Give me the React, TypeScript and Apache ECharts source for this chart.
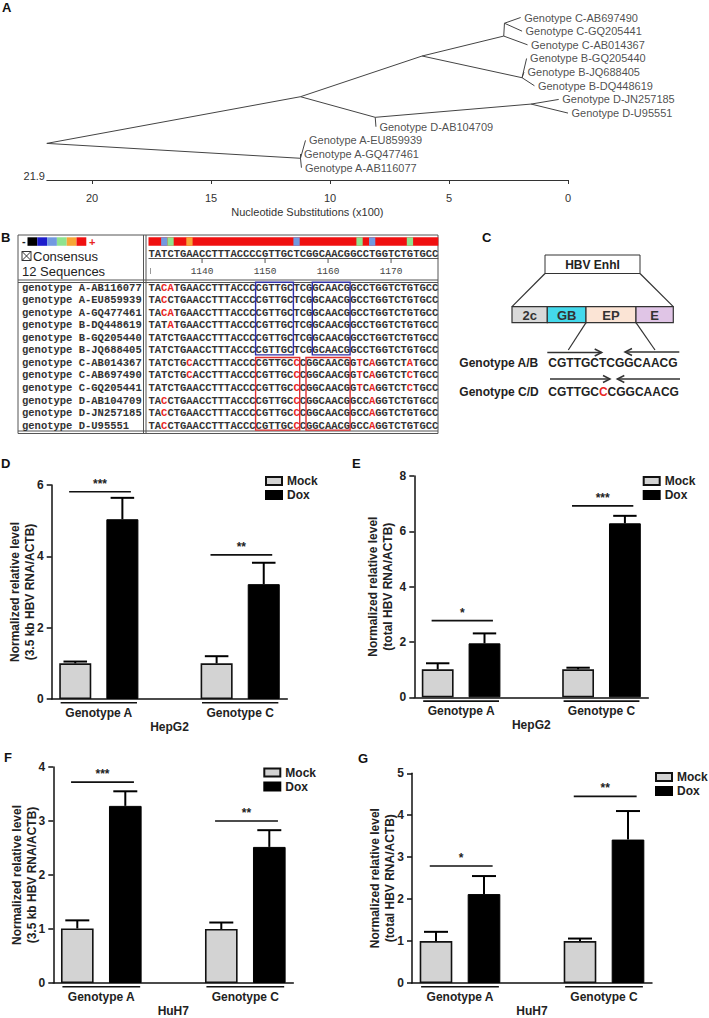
import React, { useEffect, useRef } from 'react';
import * as echarts from 'echarts';

const SANS = '"Liberation Sans", Arial, Helvetica, sans-serif';
const MONO = '"Liberation Mono", "Courier New", monospace';
const INK = '#222222';
const RED = '#e8261f';

// ---------- Panel A: phylogenetic tree ----------
const TREE_MAX = 21.9;
const TREE_TICKS = [0, 5, 10, 15, 20];
const TREE_AXIS_NAME = 'Nucleotide Substitutions (x100)';
// [id, distance (x100 substitutions), row, parent]
const TREE_NODES: [string, number, number, string][] = [
  ['root', 21.9, 9.22, ''],
  ['n1', 11.24, 5.8, 'root'],
  ['nA', 11.24, 10.31, 'root'],
  ['n2', 6.13, 2.82, 'n1'],
  ['nD', 8.1, 7.31, 'n1'],
  ['nC', 2.7, 1.36, 'n2'],
  ['nB', 1.93, 4.41, 'n2'],
  ['nC2', 2.67, 0.42, 'nC'],
  ['nD2', 1.55, 6.34, 'nD'],
];
const TREE_LEAVES: [string, number, number, string][] = [
  ['Genotype C-AB697490', 1.99, 0, 'nC2'],
  ['Genotype C-GQ205441', 1.93, 1, 'nC2'],
  ['Genotype C-AB014367', 1.7, 2, 'nC'],
  ['Genotype B-GQ205440', 1.74, 3, 'nB'],
  ['Genotype B-JQ688405', 1.85, 4, 'nB'],
  ['Genotype B-DQ448619', 1.41, 5, 'nB'],
  ['Genotype D-JN257185', 0.39, 6, 'nD2'],
  ['Genotype D-U95551', 0.0, 7, 'nD2'],
  ['Genotype D-AB104709', 8.07, 8, 'nD'],
  ['Genotype A-EU859939', 11.03, 9, 'nA'],
  ['Genotype A-GQ477461', 11.24, 10, 'nA'],
  ['Genotype A-AB116077', 11.2, 11, 'nA'],
];

// ---------- Panel B: alignment ----------
const ALIGN_FIRST_POS = 1132;
const RULER_MARKS = [1140, 1150, 1160, 1170];
const CONSENSUS = 'TATCTGAACCTTTACCCCGTTGCTCGGCAACGGCCTGGTCTGTGCC';
const SEQ_NAMES = [
  'genotype A-AB116077', 'genotype A-EU859939', 'genotype A-GQ477461',
  'genotype B-DQ448619', 'genotype B-GQ205440', 'genotype B-JQ688405',
  'genotype C-AB014367', 'genotype C-AB697490', 'genotype C-GQ205441',
  'genotype D-AB104709', 'genotype D-JN257185', 'genotype D-U95551',
];
const SEQS = [
  'TACATGAACCTTTACCCCGTTGCTCGGCAACGGCCTGGTCTGTGCC',
  'TACCTGAACCTTTACCCCGTTGCTCGGCAACGGCCTGGTCTGTGCC',
  'TACATGAACCTTTACCCCGTTGCTCGGCAACGGCCTGGTCTGTGCC',
  'TATATGAACCTTTACCCCGTTGCTCGGCAACGGCCTGGTCTGTGCC',
  'TATCTGAACCTTTACCCCGTTGCTCGGCAACGGCCTGGTCTGTGCC',
  'TATCTGAACCTTTACCCCGTTGCTCGGCAACGGCCTGGTCTGTGCC',
  'TATCTGCACCTTTACCCCGTTGCCCGGCAACGGTCAGGTCTATGCC',
  'TATCTGCACCTTTACCCCGTTGCCCGGCAACGGTCAGGTCTCTGCC',
  'TATCTGAACCTTTACCCCGTTGCCCGGCAACGGTCAGGTCTCTGCC',
  'TACCTGAACCTTTACCCCGTTGCCCGGCAACGGCCAGGTCTGTGCC',
  'TACCTGAACCTTTACCCCGTTGCCCGGCAACGGCCAGGTCTGTGCC',
  'TACCTGAACCTTTACCCCGTTGCCCGGCAACGGCCAGGTCTGTGCC',
];
const CONSERVATION: [number, string][] = [
  [2, '#7299e0'], [3, '#8fe38f'], [6, '#f7a637'], [23, '#7299e0'],
  [33, '#8fe38f'], [35, '#7299e0'], [41, '#8fe38f'],
];
const SCALE_COLORS = ['#000000', '#1c1ccc', '#7299e0', '#8fe38f', '#f7a637', '#f01010'];
// [firstCol, lastCol, firstRow, lastRow]
const BLUE_BOXES = [[17, 22, 0, 5], [26, 31, 0, 5]];
const RED_BOXES = [[17, 23, 6, 11], [25, 31, 6, 11]];

// ---------- Panel C ----------
const ENH_SEGMENTS: [string, string][] = [['2c', '#d9d9d9'], ['GB', '#44d9ec'], ['EP', '#fbe4d5'], ['E', '#e0c5e6']];
const SITE_AB = 'CGTTGCTCGGCAACG';
const SITE_CD = 'CGTTGCCCGGCAACG';
const SITE_MUT_INDEX = 6;

// ---------- Panels D-G ----------
const GROUPS = ['Genotype A', 'Genotype C'];
const SLOTS = ['A Mock', 'A Dox', '', 'C Mock', 'C Dox'];
const Y_NAME_35 = 'Normalized relative level\n(3.5 kb HBV RNA/ACTB)';
const Y_NAME_TOTAL = 'Normalized relative level\n(total HBV RNA/ACTB)';

const D_MOCK = [1.0, 1.0];
const D_MOCK_ERR = [0.05, 0.2];
const D_DOX = [5.04, 3.22];
const D_DOX_ERR = [0.6, 0.6];
const D_SIG = [5.81, 4.04];
const D_STARS = ['***', '**'];

const E_MOCK = [1.01, 1.01];
const E_MOCK_ERR = [0.22, 0.06];
const E_DOX = [1.95, 6.29];
const E_DOX_ERR = [0.36, 0.27];
const E_SIG = [2.77, 6.92];
const E_STARS = ['*', '***'];

const F_MOCK = [1.01, 1.0];
const F_MOCK_ERR = [0.15, 0.12];
const F_DOX = [3.28, 2.52];
const F_DOX_ERR = [0.27, 0.31];
const F_SIG = [3.72, 3.0];
const F_STARS = ['***', '**'];

const G_MOCK = [1.0, 1.0];
const G_MOCK_ERR = [0.22, 0.06];
const G_DOX = [2.12, 3.42];
const G_DOX_ERR = [0.43, 0.68];
const G_SIG = [2.79, 4.45];
const G_STARS = ['*', '**'];

const BAR_PANELS = [
  { grid: { left: 51.7, top: 485, width: 235.6, height: 214 }, yMax: 6, yInt: 2, yName: Y_NAME_35, cell: 'HepG2',
    mock: D_MOCK, mockErr: D_MOCK_ERR, dox: D_DOX, doxErr: D_DOX_ERR, sig: D_SIG, stars: D_STARS, legend: { left: 260, top: 470 }, nameGap: 14 },
  { grid: { left: 414.3, top: 476, width: 234, height: 221.3 }, yMax: 8, yInt: 2, yName: Y_NAME_TOTAL, cell: 'HepG2',
    mock: E_MOCK, mockErr: E_MOCK_ERR, dox: E_DOX, doxErr: E_DOX_ERR, sig: E_SIG, stars: E_STARS, legend: { left: 637.7, top: 470 }, nameGap: 18.5 },
  { grid: { left: 53.3, top: 767, width: 240, height: 221.3 }, yMax: 4, yInt: 1, yName: Y_NAME_35, cell: 'HuH7',
    mock: F_MOCK, mockErr: F_MOCK_ERR, dox: F_DOX, doxErr: F_DOX_ERR, sig: F_SIG, stars: F_STARS, legend: { left: 258.3, top: 761.5 }, nameGap: 14 },
  { grid: { left: 412, top: 773.3, width: 240, height: 212.7 }, yMax: 5, yInt: 1, yName: Y_NAME_TOTAL, cell: 'HuH7',
    mock: G_MOCK, mockErr: G_MOCK_ERR, dox: G_DOX, doxErr: G_DOX_ERR, sig: G_SIG, stars: G_STARS, legend: { left: 650, top: 766 }, nameGap: 14.5 },
];

// ---------- helpers ----------
function txt(text: string, x: number, y: number, o: any = {}) {
  const align = o.align || 'left';
  const valign = o.valign || 'middle';
  return {
    type: 'text', x, y, silent: true, z: 10,
    style: {
      text, fill: o.fill || INK, font: o.font || `12px ${SANS}`,
      align, verticalAlign: valign, textAlign: align, textVerticalAlign: valign,
    },
  };
}
function line(x1: number, y1: number, x2: number, y2: number, stroke = '#333', lineWidth = 1) {
  return { type: 'line', silent: true, z: 10, shape: { x1, y1, x2, y2 }, style: { stroke, lineWidth } };
}
function rect(x: number, y: number, width: number, height: number, fill: string, stroke?: string, lineWidth = 1) {
  return { type: 'rect', silent: true, z: 9, shape: { x, y, width, height }, style: { fill, stroke: stroke || 'none', lineWidth } };
}
function arrow(x1: number, x2: number, y: number) {
  const d = x2 > x1 ? 1 : -1;
  return [
    line(x1, y, x2, y, '#333', 1.5),
    { type: 'polyline', silent: true, z: 10, shape: { points: [[x2 - d * 7, y - 3.5], [x2, y], [x2 - d * 7, y + 3.5]] }, style: { stroke: '#333', fill: 'none', lineWidth: 1.5 } },
  ];
}

function buildTreeEdges() {
  const pos: Record<string, [number, number]> = {};
  TREE_NODES.forEach(([id, x, y]) => { pos[id] = [x, y]; });
  const edges: any[] = [];
  TREE_NODES.forEach(([, x, y, p]) => { if (p) edges.push({ coords: [pos[p], [x, y]] }); });
  TREE_LEAVES.forEach(([, x, y, p]) => edges.push({ coords: [pos[p], [x, y]] }));
  return edges;
}

function buildPanelB() {
  const els: any[] = [];
  const SEQ_X = 148.5, CW = 6.3, ROW_Y0 = 287.7, ROW_H = 12.54;
  const colX = (c: number) => SEQ_X + c * CW;
  const rowY = (r: number) => ROW_Y0 + r * ROW_H;
  const seqFont = `bold 10.5px ${MONO}`;
  const L = 18, R = 438, T = 235, BOT = 433.5;
  // frame
  els.push(rect(L, T, R - L, BOT - T, 'none', '#555', 1));
  els.push(line(L, 431, R, 431, '#555', 1));
  els.push(line(143.5, T, 143.5, BOT, '#555', 1));
  els.push(line(146, T, 146, BOT, '#555', 1));
  els.push(line(L, 280, R, 280, '#555', 1));
  els.push(line(L, 282.5, R, 282.5, '#555', 1));
  // colour scale
  els.push(txt('-', 22, 241, { font: `bold 11px ${SANS}` }));
  SCALE_COLORS.forEach((c, i) => els.push(rect(27.5 + i * 9.8, 237.3, 9.8, 8.5, c)));
  els.push(txt('+', 89, 241.5, { font: `bold 11px ${SANS}`, fill: RED }));
  // consensus label
  els.push(rect(22, 251.5, 9, 9, 'none', '#333', 1));
  els.push(line(22, 251.5, 31, 260.5, '#333', 1));
  els.push(line(31, 251.5, 22, 260.5, '#333', 1));
  els.push(txt('Consensus', 33, 256.5, { font: `13px ${SANS}` }));
  els.push(txt('12 Sequences', 22, 271, { font: `13px ${SANS}` }));
  // conservation bar
  els.push(rect(colX(0), 237.3, CONSENSUS.length * CW, 8.5, '#f01010'));
  CONSERVATION.forEach(([c, col]) => els.push(rect(colX(c), 237.3, CW, 8.5, col)));
  // consensus + ruler
  els.push(txt(CONSENSUS, colX(0), 253.5, { font: seqFont, fill: '#333' }));
  els.push(line(colX(0), 258.5, colX(CONSENSUS.length), 258.5, '#555', 1));
  els.push(line(colX(0) + 2, 268, colX(0) + 2, 274, '#999', 1));
  RULER_MARKS.forEach((m) => {
    const cx = colX(m - ALIGN_FIRST_POS) + CW / 2;
    els.push(line(cx, 258.5, cx, 263, '#555', 1));
    els.push(txt(String(m), cx, 271, { font: `9.5px ${MONO}`, fill: '#444', align: 'center' }));
  });
  // rows
  SEQS.forEach((seq, r) => {
    const y = rowY(r);
    els.push(txt(SEQ_NAMES[r], 22, y, { font: seqFont, fill: '#333' }));
    let i = 0;
    while (i < seq.length) {
      const red = seq[i] !== CONSENSUS[i];
      let j = i + 1;
      while (j < seq.length && (seq[j] !== CONSENSUS[j]) === red) j++;
      els.push(txt(seq.slice(i, j), colX(i), y, { font: seqFont, fill: red ? RED : '#333' }));
      i = j;
    }
  });
  const box = (b: number[], color: string) => {
    const [c0, c1, r0, r1] = b;
    const y0 = rowY(r0) - 5.5, y1 = rowY(r1) + 4.5;
    els.push({ type: 'rect', silent: true, z: 11, shape: { x: colX(c0), y: y0, width: (c1 - c0 + 1) * CW, height: y1 - y0 }, style: { fill: 'none', stroke: color, lineWidth: 1.4 } });
  };
  BLUE_BOXES.forEach((b) => box(b, '#3030a8'));
  RED_BOXES.forEach((b) => box(b, '#e03030'));
  return els;
}

function buildPanelC() {
  const els: any[] = [];
  els.push(rect(545, 255, 95, 18.5, '#ffffff', '#333', 1));
  els.push(txt('HBV EnhI', 592.5, 264.5, { font: `bold 12px ${SANS}`, align: 'center' }));
  els.push(line(545, 273.5, 512, 306.7, '#333', 1.2));
  els.push(line(640, 273.5, 673.3, 306.7, '#333', 1.2));
  const edges = [512, 547.3, 586, 636, 673.3];
  ENH_SEGMENTS.forEach(([name, color], i) => {
    els.push(rect(edges[i], 306.7, edges[i + 1] - edges[i], 16, color, '#333', 1.2));
    els.push(txt(name, (edges[i] + edges[i + 1]) / 2, 315, { font: `bold 13px ${SANS}`, align: 'center', fill: '#333' }));
  });
  els.push(line(586, 322.7, 568.3, 350, '#333', 1.2));
  els.push(line(636, 322.7, 655, 350, '#333', 1.2));
  els.push(...arrow(547.3, 601.7, 352.5));
  els.push(...arrow(679.3, 625, 352));
  els.push(...arrow(550, 610, 379));
  els.push(...arrow(680, 617.3, 379));
  const f = `bold 12px ${SANS}`;
  els.push(txt('Genotype A/B', 459.3, 362.5, { font: f }));
  els.push(txt(SITE_AB, 548.3, 362.5, { font: f }));
  els.push(txt('Genotype C/D', 459.3, 391.5, { font: f }));
  els.push({
    type: 'text', x: 548.3, y: 391.5, silent: true, z: 10,
    style: {
      text: `{n|${SITE_CD.slice(0, SITE_MUT_INDEX)}}{r|${SITE_CD[SITE_MUT_INDEX]}}{n|${SITE_CD.slice(SITE_MUT_INDEX + 1)}}`,
      font: f, fill: INK, align: 'left', verticalAlign: 'middle', textAlign: 'left', textVerticalAlign: 'middle',
      rich: { n: { fill: INK, color: INK, font: f, fontWeight: 'bold', fontSize: 12, fontFamily: SANS }, r: { fill: RED, color: RED, font: f, fontWeight: 'bold', fontSize: 12, fontFamily: SANS } },
    },
  });
  return els;
}

function buildOption() {
  const grid: any[] = [{ left: 46.8, top: 3.85, width: 521.2, height: 176.15 }];
  const xAxis: any[] = [{
    gridIndex: 0, type: 'value', min: 0, max: TREE_MAX, inverse: true, interval: 5, position: 'bottom',
    axisLine: { show: true, onZero: false, lineStyle: { color: '#333', width: 1 } },
    axisTick: { show: true, customValues: TREE_TICKS, length: 4, lineStyle: { color: '#333' } },
    axisLabel: { customValues: TREE_TICKS, fontSize: 11, color: '#333', margin: 12, fontFamily: SANS },
    splitLine: { show: false },
    name: TREE_AXIS_NAME, nameLocation: 'middle', nameGap: 26,
    nameTextStyle: { fontSize: 11, color: '#333', fontFamily: SANS },
  }];
  const yAxis: any[] = [{ gridIndex: 0, type: 'value', min: -1, max: 11.9, inverse: true, show: false }];
  const series: any[] = [
    {
      type: 'lines', coordinateSystem: 'cartesian2d', xAxisIndex: 0, yAxisIndex: 0, silent: true,
      lineStyle: { color: '#444', width: 1, opacity: 1 }, data: buildTreeEdges(),
    },
    {
      type: 'scatter', xAxisIndex: 0, yAxisIndex: 0, symbolSize: 1, silent: true,
      itemStyle: { color: 'transparent' },
      label: { show: true, position: 'right', distance: 3, formatter: '{b}', fontSize: 11, color: INK, fontFamily: SANS },
      data: TREE_LEAVES.map(([name, x, y]) => ({ name, value: [x, y] })),
    },
  ];
  const legend: any[] = [];

  BAR_PANELS.forEach((p, k) => {
    const gi = k + 1;
    grid.push({ ...p.grid });
    xAxis.push({
      gridIndex: gi, type: 'category', data: SLOTS,
      axisLine: { show: true, lineStyle: { color: '#111', width: 1.5 } },
      axisTick: { show: false }, axisLabel: { show: false },
      name: p.cell, nameLocation: 'middle', nameGap: 22, nameMoveOverlap: false,
      nameTextStyle: { fontWeight: 'bold', fontSize: 12, color: INK, fontFamily: SANS },
    });
    yAxis.push({
      gridIndex: gi, type: 'value', min: 0, max: p.yMax, interval: p.yInt,
      axisLine: { show: true, lineStyle: { color: '#111', width: 1.5 } },
      axisTick: { show: true, length: 5, lineStyle: { color: '#111', width: 1.5 } },
      axisLabel: { fontWeight: 'bold', fontSize: 12, color: INK, margin: 8, fontFamily: SANS },
      splitLine: { show: false },
      name: p.yName, nameLocation: 'middle', nameRotate: 90, nameGap: p.nameGap, nameMoveOverlap: false,
      nameTextStyle: { fontWeight: 'bold', fontSize: 12, color: INK, lineHeight: 15, fontFamily: SANS },
    });
    series.push({
      name: 'Mock', type: 'bar', xAxisIndex: gi, yAxisIndex: gi, barWidth: '68%', barGap: '-100%', silent: true,
      itemStyle: { color: '#d3d3d3', borderColor: '#111', borderWidth: 1.6 },
      data: [p.mock[0], '-', '-', p.mock[1], '-'],
    });
    series.push({
      name: 'Dox', type: 'bar', xAxisIndex: gi, yAxisIndex: gi, barWidth: '68%', barGap: '-100%', silent: true,
      itemStyle: { color: '#000000', borderColor: '#000', borderWidth: 1 },
      data: ['-', p.dox[0], '-', '-', p.dox[1]],
    });
    series.push({
      type: 'custom', xAxisIndex: gi, yAxisIndex: gi, silent: true, z: 5,
      data: [[0, p.mock[0], p.mockErr[0]], [1, p.dox[0], p.doxErr[0]], [3, p.mock[1], p.mockErr[1]], [4, p.dox[1], p.doxErr[1]]],
      renderItem: (params: any, api: any) => {
        const x = api.value(0), v = api.value(1), e = api.value(2);
        const band = api.coord([1, 0])[0] - api.coord([0, 0])[0];
        const p0 = api.coord([x, v]);
        const p1 = api.coord([x, v + e]);
        const half = band * 0.25;
        return {
          type: 'group', children: [
            { type: 'line', shape: { x1: p0[0], y1: p0[1], x2: p1[0], y2: p1[1] }, style: { stroke: '#000', lineWidth: 2 } },
            { type: 'line', shape: { x1: p1[0] - half, y1: p1[1], x2: p1[0] + half, y2: p1[1] }, style: { stroke: '#000', lineWidth: 2 } },
          ],
        };
      },
    });
    series.push({
      type: 'custom', xAxisIndex: gi, yAxisIndex: gi, silent: true, clip: false, z: 5,
      data: [[0, 1, p.sig[0]], [3, 4, p.sig[1]]],
      renderItem: (params: any, api: any) => {
        const a = api.value(0), b = api.value(1), s = api.value(2);
        const band = api.coord([1, 0])[0] - api.coord([0, 0])[0];
        const pa = api.coord([a, s]);
        const pb = api.coord([b, s]);
        const y0 = api.coord([a, 0])[1];
        const x1 = pa[0] - 0.13 * band, x2 = pb[0] + 0.18 * band;
        const gIdx = params.dataIndex;
        return {
          type: 'group', children: [
            { type: 'line', shape: { x1, y1: pa[1], x2, y2: pa[1] }, style: { stroke: '#111', lineWidth: 1.6 } },
            { type: 'text', x: (x1 + x2) / 2, y: pa[1] - 2, style: { text: p.stars[gIdx], fill: INK, font: `bold 12px ${SANS}`, align: 'center', verticalAlign: 'bottom', textAlign: 'center', textVerticalAlign: 'bottom' } },
            { type: 'line', shape: { x1: pa[0] - 0.31 * band, y1: y0 + 3.8, x2: pb[0] + 0.31 * band, y2: y0 + 3.8 }, style: { stroke: '#111', lineWidth: 1.6 } },
            { type: 'text', x: (pa[0] + pb[0]) / 2, y: y0 + 14, style: { text: GROUPS[gIdx], fill: INK, font: `bold 12px ${SANS}`, align: 'center', verticalAlign: 'middle', textAlign: 'center', textVerticalAlign: 'middle' } },
          ],
        };
      },
    });
    legend.push({
      left: p.legend.left, top: p.legend.top, orient: 'vertical', icon: 'rect', itemWidth: 16, itemHeight: 8, itemGap: 2,
      selectedMode: false, data: ['Mock', 'Dox'],
      textStyle: { fontWeight: 'bold', fontSize: 12, color: INK, fontFamily: SANS },
    });
  });

  const letters = [['A', 2, 7], ['B', 1, 237], ['C', 482, 237], ['D', 1, 463], ['E', 352, 463], ['F', 4, 757], ['G', 358, 758]];
  const graphicEls: any[] = [
    ...letters.map(([t, x, y]) => txt(t as string, x as number, y as number, { font: `bold 13px ${SANS}`, fill: '#111' })),
    txt(String(TREE_MAX), 45, 176, { font: `11px ${SANS}`, fill: '#333', align: 'right' }),
    ...buildPanelB(),
    ...buildPanelC(),
  ];

  return {
    animation: false,
    backgroundColor: '#ffffff',
    textStyle: { fontFamily: SANS },
    grid, xAxis, yAxis, series, legend,
    graphic: { elements: graphicEls },
  };
}

export default function App() {
  const ref = useRef<HTMLDivElement>(null);
  useEffect(() => {
    document.body.style.margin = '0';
    if (!ref.current) return;
    const chart = echarts.init(ref.current, null, { renderer: 'svg' });
    chart.setOption(buildOption() as any);
    return () => chart.dispose();
  }, []);
  return <div ref={ref} style={{ width: 709, height: 1018, background: '#fff' }} />;
}
